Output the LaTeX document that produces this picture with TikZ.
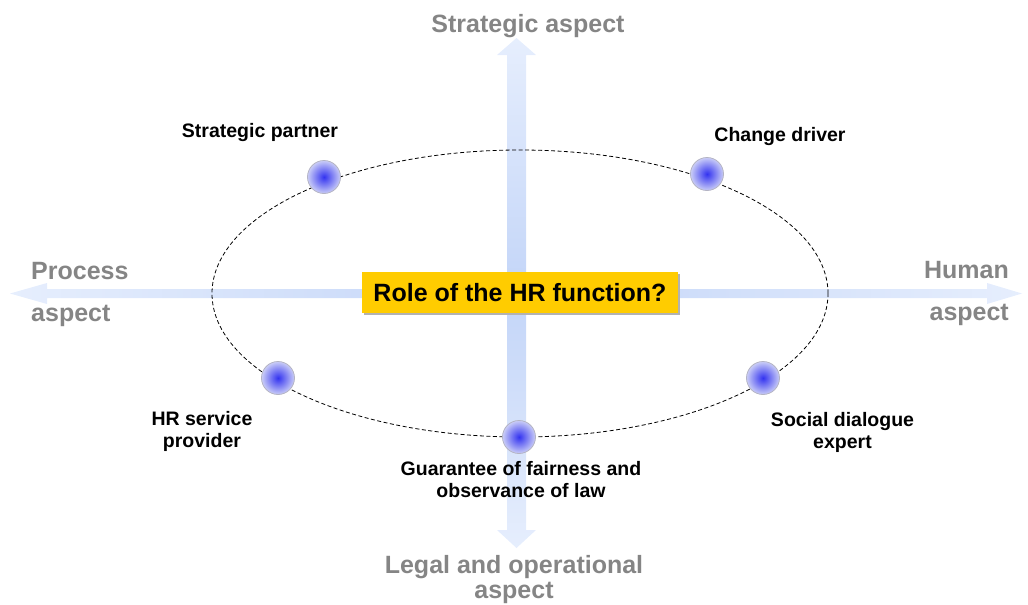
\documentclass[tikz,border=0pt]{standalone}
\usepackage{fontspec}
\setmainfont{Liberation Sans}
\usetikzlibrary{shadows}

\definecolor{axisdark}{HTML}{C3D5F8}
\definecolor{axislight}{HTML}{E6EEFD}
\definecolor{aspectgray}{HTML}{858585}
\definecolor{ballcore}{HTML}{3333F0}
\definecolor{ballshell}{HTML}{CACDF7}
\definecolor{ballrim}{HTML}{B4B4C4}
\definecolor{hryellow}{HTML}{FFCC00}

\tikzset{
    aspect node/.style={text=aspectgray, font=\fontsize{25}{25.5}\selectfont\bfseries, inner sep=0, align=center},
    role node/.style={text=black, font=\fontsize{19.5}{22.5}\selectfont\bfseries, inner sep=0, align=center},
    ball node/.style={circle, draw=ballrim, line width=0.8pt, inner color=ballcore, outer color=ballshell, minimum size=33pt, inner sep=0},
    question node/.style={fill=hryellow, font=\fontsize{25}{26}\selectfont\bfseries, minimum width=316pt, minimum height=41pt, inner sep=0,
        drop shadow={shadow xshift=2pt, shadow yshift=-2pt, fill=black!30, opacity=1}},
    orbit/.style={draw=black, line width=0.8pt, dash pattern=on 4pt off 2.5pt}
    }

\begin{document}
\begin{tikzpicture}[x=1pt, y=-1pt]
    \useasboundingbox (0,0) rectangle (1028,605);
    \coordinate (c) at (516.5,293.5);

    % the two axes, each half fading out towards its tip
    \shade[top color=axislight, bottom color=axisdark]
        (507,293.5) -- (507,55) -- (497,55) -- (516.5,38) -- (536,55) -- (526,55) -- (526,293.5) -- cycle;
    \shade[top color=axisdark, bottom color=axislight]
        (507,293.5) -- (507,530) -- (497,530) -- (516.5,548) -- (536,530) -- (526,530) -- (526,293.5) -- cycle;
    \shade[left color=axislight, right color=axisdark]
        (516.5,289) -- (47,289) -- (47,283) -- (10,293.5) -- (47,304) -- (47,298) -- (516.5,298) -- cycle;
    \shade[left color=axisdark, right color=axislight]
        (516.5,289) -- (987,289) -- (987,283) -- (1022,293.5) -- (987,304) -- (987,298) -- (516.5,298) -- cycle;

    \draw[orbit] (520,293.5) ellipse [x radius=308pt, y radius=143.5pt];

    \node(role)[question node] at (520,292.5) {Role of the HR function?};

    \node(partner)[ball node] at (324,177) {};
    \node(driver)[ball node] at (707,174) {};
    \node(provider)[ball node] at (278,378) {};
    \node(dialogue)[ball node] at (763,378) {};
    \node(fairness)[ball node] at (519,437) {};

    % multi-line labels sit on the baseline of their last line
    \node[role node, anchor=base] at (260,137) {Strategic partner};
    \node[role node, anchor=base] at (780,141) {Change driver};
    \node[role node, anchor=base] at (202,447.5) {HR service\\provider};
    \node[role node, anchor=base] at (842.5,448.5) {Social dialogue\\expert};
    \node[role node, anchor=base] at (521,497.5) {Guarantee of fairness and\\observance of law};

    \node(north)[aspect node, anchor=base] at (528,32) {Strategic aspect};
    \node(west)[aspect node, anchor=base west] at (31,279) {Process};
    \node[aspect node, anchor=base west] at (31,321) {aspect};
    \node(east)[aspect node, anchor=base east] at (1009,278) {Human};
    \node[aspect node, anchor=base east] at (1009,320) {aspect};
    \node(south)[aspect node, anchor=base] at (514,598.5) {Legal and operational\\aspect};
\end{tikzpicture}
\end{document}
